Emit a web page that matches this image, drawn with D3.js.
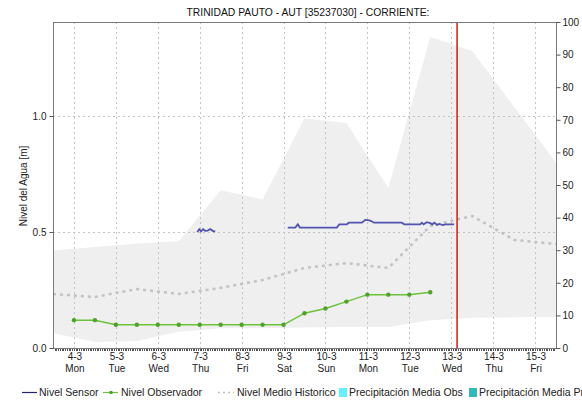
<!DOCTYPE html>
<html>
<head>
<meta charset="utf-8">
<script src="https://cdn.jsdelivr.net/npm/d3@7"></script>
<style>
  html, body { margin: 0; padding: 0; background: #fff; }
  svg { display: block; font-family: "Liberation Sans", Arial, sans-serif; }
</style>
</head>
<body>
<svg id="chart" width="582" height="404"></svg>
<script>
// Day ticks (March) and weekday names
const tickDays = [4, 5, 6, 7, 8, 9, 10, 11, 12, 13, 14, 15];
const tickDates = ["4-3", "5-3", "6-3", "7-3", "8-3", "9-3", "10-3", "11-3", "12-3", "13-3", "14-3", "15-3"];
const tickWeekdays = ["Mon", "Tue", "Wed", "Thu", "Fri", "Sat", "Sun", "Mon", "Tue", "Wed", "Thu", "Fri"];

const levelTicks = [0, 0.5, 1.0];
const precipTicks = [0, 10, 20, 30, 40, 50, 60, 70, 80, 90, 100];

// Historical band (min / max) and historical mean, at midday of each day
const histDays = [3.5, 4.5, 5.5, 6.5, 7.5, 8.5, 9.5, 10.5, 11.5, 12.5, 13.5, 14.5, 15.5];
const histMax  = [0.42, 0.435, 0.45, 0.46, 0.68, 0.64, 0.99, 0.97, 0.69, 1.34, 1.28, 1.04, 0.80];
const histMin  = [0.065, 0.026, 0.03, 0.07, 0.085, 0.085, 0.088, 0.09, 0.09, 0.12, 0.13, 0.132, 0.135];
const histMean = [0.233, 0.22, 0.254, 0.233, 0.259, 0.293, 0.345, 0.366, 0.345, 0.526, 0.569, 0.466, 0.448];

// Sensor level (null = gap in the record)
const sensorDays = [6.94, 6.99, 7.03, 7.08, 7.13, 7.19, 7.25, 7.31, 7.37, null,
  9.10, 9.28, 9.34, 9.39, 10.27, 10.33, 10.51, 10.56, 10.87, 10.95, 11.05, 11.11, 11.16,
  11.82, 11.88, 12.26, 12.30, 12.34, 12.42, 12.50, 12.55, 12.60, 12.66, 12.72, 12.80, 12.86, 13.07];
const sensorLevels = [0.500, 0.512, 0.503, 0.512, 0.505, 0.506, 0.513, 0.505, 0.502, null,
  0.519, 0.519, 0.533, 0.519, 0.519, 0.533, 0.533, 0.540, 0.540, 0.552, 0.550, 0.545, 0.540,
  0.540, 0.533, 0.533, 0.540, 0.533, 0.542, 0.538, 0.533, 0.540, 0.530, 0.535, 0.530, 0.533, 0.533];

// Observer readings, twice a day
const obsDays = [4.0, 4.5, 5.0, 5.5, 6.0, 6.5, 7.0, 7.5, 8.0, 8.5, 9.0, 9.5, 10.0, 10.5, 11.0, 11.5, 12.0, 12.5];
const obsLevels = [0.12, 0.12, 0.10, 0.10, 0.10, 0.10, 0.10, 0.10, 0.10, 0.10, 0.10, 0.15, 0.17, 0.20, 0.23, 0.23, 0.23, 0.24];

// Current time marker
const nowDay = 13.14;

const legendLabels = ["Nivel Sensor", "Nivel Observador", "Nivel Medio Historico", "Precipitación Media Obs", "Precipitación Media Pronosticada"];

const svg = d3.select("#chart");
const L = 53, R = 556, T = 22, B = 348;

const x = d3.scaleLinear().domain([3.5, 15.5]).range([L, R]);
const yL = d3.scaleLinear().domain([0, 1.405]).range([B, T]);
const yR = d3.scaleLinear().domain([0, 100]).range([B, T]);

// Title
svg.append("text")
  .attr("x", 308).attr("y", 16)
  .attr("text-anchor", "middle")
  .attr("font-size", 11)
  .attr("fill", "#111")
  .attr("textLength", 243).attr("lengthAdjust", "spacingAndGlyphs")
  .text("TRINIDAD PAUTO - AUT [35237030] - CORRIENTE:");

// Historical range band
const band = histDays.map((d, i) => ({ d, lo: histMin[i], hi: histMax[i] }));
svg.append("path")
  .datum(band)
  .attr("fill", "#efefef")
  .attr("d", d3.area().x(p => x(p.d)).y0(p => yL(p.lo)).y1(p => yL(p.hi)));

// Grid
const grid = svg.append("g").attr("stroke", "#c4c4c4").attr("stroke-width", 1).attr("stroke-dasharray", "2,3");
grid.selectAll("line.v").data(tickDays).join("line")
  .attr("x1", d => Math.round(x(d)) + 0.5).attr("x2", d => Math.round(x(d)) + 0.5)
  .attr("y1", T).attr("y2", B);
grid.selectAll("line.h").data(levelTicks.filter(v => v > 0)).join("line")
  .attr("x1", L).attr("x2", R)
  .attr("y1", d => Math.round(yL(d)) + 0.5).attr("y2", d => Math.round(yL(d)) + 0.5);

// Historical mean (dotted)
svg.append("path")
  .datum(histDays.map((d, i) => [d, histMean[i]]))
  .attr("fill", "none")
  .attr("stroke", "#c2c2c2")
  .attr("stroke-width", 2.5)
  .attr("stroke-dasharray", "3,4")
  .attr("d", d3.line().x(p => x(p[0])).y(p => yL(p[1])));

// Sensor level
svg.append("path")
  .datum(sensorDays.map((d, i) => [d, sensorLevels[i]]))
  .attr("fill", "none")
  .attr("stroke", "#5252b0")
  .attr("stroke-width", 1.8)
  .attr("d", d3.line().defined(p => p[0] !== null).x(p => x(p[0])).y(p => yL(p[1])));

// Observer level
const obs = obsDays.map((d, i) => [d, obsLevels[i]]);
svg.append("path")
  .datum(obs)
  .attr("fill", "none")
  .attr("stroke", "#6cc23a")
  .attr("stroke-width", 1.5)
  .attr("d", d3.line().x(p => x(p[0])).y(p => yL(p[1])));
svg.selectAll("circle.obs").data(obs).join("circle")
  .attr("cx", p => x(p[0])).attr("cy", p => yL(p[1]))
  .attr("r", 2.2)
  .attr("fill", "#4fa22c");

// Current time line
svg.append("line")
  .attr("x1", x(nowDay)).attr("x2", x(nowDay))
  .attr("y1", T).attr("y2", B)
  .attr("stroke", "#cc2a2a").attr("stroke-width", 1.6);

// Frame
svg.append("rect")
  .attr("x", L + 0.5).attr("y", T + 0.5)
  .attr("width", R - L).attr("height", B - T)
  .attr("fill", "none").attr("stroke", "#7a7a7a");

// Left axis
const axL = svg.append("g").attr("transform", `translate(${L + 0.5},0)`)
  .call(d3.axisLeft(yL).tickValues(levelTicks).tickFormat(d3.format(".1f")).tickSize(4).tickPadding(3));
axL.select(".domain").remove();
axL.selectAll("line").attr("stroke", "#555");
axL.selectAll("text").attr("font-size", 10).attr("fill", "#222").attr("font-family", "Liberation Sans, Arial, sans-serif");

// Right axis
const axR = svg.append("g").attr("transform", `translate(${R + 0.5},0)`)
  .call(d3.axisRight(yR).tickValues(precipTicks).tickSize(4).tickPadding(2));
axR.select(".domain").remove();
axR.selectAll("line").attr("stroke", "#555");
axR.selectAll("text").attr("font-size", 10).attr("fill", "#222").attr("font-family", "Liberation Sans, Arial, sans-serif");

// Bottom axis: hourly minor ticks
const hours = d3.range(3.5 * 24 + 1, 15.5 * 24).map(h => h / 24);
svg.append("g").selectAll("line").data(hours).join("line")
  .attr("x1", d => Math.round(x(d)) + 0.5).attr("x2", d => Math.round(x(d)) + 0.5)
  .attr("y1", B + 1).attr("y2", B + 3)
  .attr("stroke", "#555");

const xl = svg.append("g").attr("font-size", 10).attr("fill", "#222").attr("text-anchor", "middle");
xl.selectAll("text.date").data(tickDays).join("text")
  .attr("x", d => x(d) + 1).attr("y", 360)
  .text((d, i) => tickDates[i]);
xl.selectAll("text.wd").data(tickDays).join("text")
  .attr("x", d => x(d) + 1).attr("y", 372)
  .text((d, i) => tickWeekdays[i]);

// Axis title
svg.append("text")
  .attr("transform", "translate(27,186) rotate(-90)")
  .attr("text-anchor", "middle")
  .attr("font-size", 10)
  .attr("fill", "#222")
  .text("Nivel del Agua [m]");

// Legend
const lg = svg.append("g").attr("font-size", 10.5).attr("fill", "#222");
const ly = 392;
lg.append("line").attr("x1", 22).attr("x2", 37).attr("y1", ly + 0.5).attr("y2", ly + 0.5).attr("stroke", "#23236b").attr("stroke-width", 1.2);
lg.append("text").attr("x", 39).attr("y", ly + 4).text(legendLabels[0]);
lg.append("line").attr("x1", 103).attr("x2", 118).attr("y1", ly + 0.5).attr("y2", ly + 0.5).attr("stroke", "#6cc23a").attr("stroke-width", 1.2);
lg.append("circle").attr("cx", 111).attr("cy", ly + 0.5).attr("r", 1.8).attr("fill", "#4fa22c");
lg.append("text").attr("x", 121).attr("y", ly + 4).text(legendLabels[1]);
lg.append("line").attr("x1", 218).attr("x2", 234).attr("y1", ly + 0.5).attr("y2", ly + 0.5).attr("stroke", "#c2c2c2").attr("stroke-width", 1.5).attr("stroke-dasharray", "2,3");
lg.append("text").attr("x", 237).attr("y", ly + 4).text(legendLabels[2]);
lg.append("rect").attr("x", 339).attr("y", ly - 4).attr("width", 8).attr("height", 9).attr("fill", "#66f0ff");
lg.append("text").attr("x", 349).attr("y", ly + 4).text(legendLabels[3]);
lg.append("rect").attr("x", 469).attr("y", ly - 4).attr("width", 8).attr("height", 9).attr("fill", "#35b8b8");
lg.append("text").attr("x", 479).attr("y", ly + 4).text(legendLabels[4]);
</script>
</body>
</html>
